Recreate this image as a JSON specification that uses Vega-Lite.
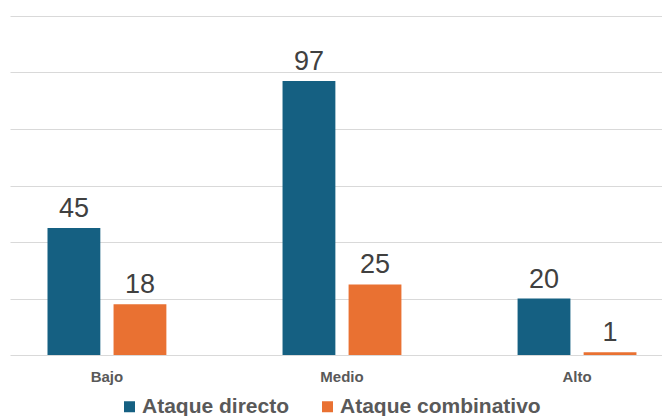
{
  "$schema": "https://vega.github.io/schema/vega-lite/v6.json",
  "width": 652,
  "height": 339,
  "autosize": {"type": "none"},
  "padding": {"left": 10, "top": 16, "right": 0, "bottom": 61},
  "background": "white",
  "config": {"view": {"stroke": null}, "font": "Liberation Sans"},
  "data": {
    "values": [
      {"nivel": "Bajo", "tipo": "Ataque directo", "valor": 45},
      {"nivel": "Bajo", "tipo": "Ataque combinativo", "valor": 18},
      {"nivel": "Medio", "tipo": "Ataque directo", "valor": 97},
      {"nivel": "Medio", "tipo": "Ataque combinativo", "valor": 25},
      {"nivel": "Alto", "tipo": "Ataque directo", "valor": 20},
      {"nivel": "Alto", "tipo": "Ataque combinativo", "valor": 1}
    ]
  },
  "encoding": {
    "x": {
      "field": "nivel",
      "type": "nominal",
      "sort": ["Bajo", "Medio", "Alto"],
      "scale": {"paddingInner": 0.438, "paddingOuter": 0.106, "align": 0.62},
      "axis": {
        "title": null,
        "labelAngle": 0,
        "domain": false,
        "ticks": false,
        "labelFont": "Liberation Sans",
        "labelFontWeight": "bold",
        "labelFontSize": 15,
        "labelColor": "#595959",
        "labelPadding": 14
      }
    },
    "xOffset": {
      "field": "tipo",
      "type": "nominal",
      "sort": ["Ataque directo", "Ataque combinativo"],
      "scale": {"paddingInner": 0.2, "paddingOuter": 0.1}
    },
    "y": {
      "field": "valor",
      "type": "quantitative",
      "scale": {"domain": [0, 120], "nice": false},
      "axis": {
        "title": null,
        "labels": false,
        "ticks": false,
        "domain": false,
        "values": [0, 20, 40, 60, 80, 100, 120],
        "gridColor": "#D9D9D9",
        "gridWidth": 1
      }
    }
  },
  "layer": [
    {
      "mark": {"type": "bar"},
      "encoding": {
        "color": {
          "field": "tipo",
          "type": "nominal",
          "sort": ["Ataque directo", "Ataque combinativo"],
          "scale": {"domain": ["Ataque directo", "Ataque combinativo"], "range": ["#156082", "#E97132"]},
          "legend": {
            "title": null,
            "orient": "none",
            "direction": "horizontal",
            "legendX": 109,
            "legendY": 380,
            "padding": 0,
            "symbolType": "square",
            "symbolSize": 121,
            "symbolStrokeWidth": 0,
            "symbolOpacity": 1,
            "labelFont": "Liberation Sans",
            "labelFontWeight": "bold",
            "labelFontSize": 21,
            "labelColor": "#595959",
            "labelOffset": 2,
            "columnPadding": 27,
            "labelLimit": 400
          }
        }
      }
    },
    {
      "mark": {"type": "text", "baseline": "alphabetic", "dy": -11, "fontSize": 27, "color": "#404040", "font": "Liberation Sans"},
      "encoding": {"text": {"field": "valor", "type": "quantitative"}}
    }
  ]
}
